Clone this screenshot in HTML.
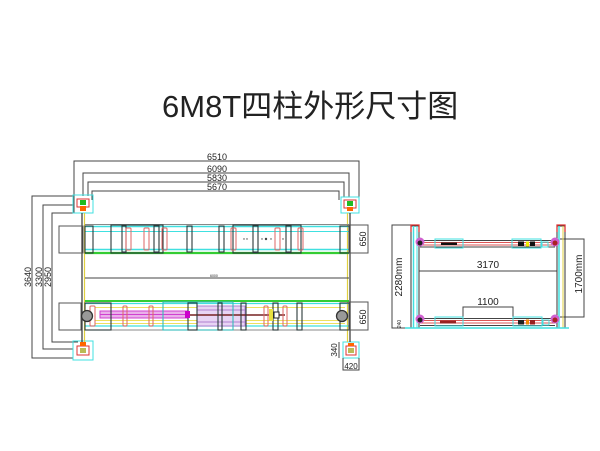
<!DOCTYPE html>
<html><head><meta charset="utf-8"><style>
html,body{margin:0;padding:0;background:#fff;}
svg{display:block;}
text{font-family:"Liberation Sans","Noto Sans CJK SC",sans-serif;fill:#222;}
</style></head><body>
<svg width="600" height="451" viewBox="0 0 600 451" xmlns="http://www.w3.org/2000/svg">
<rect width="600" height="451" fill="#fff"/>
<text x="162" y="117" font-size="31" style="font-family:'Liberation Sans','Noto Sans CJK SC',sans-serif" fill="#111">6M8T四柱外形尺寸图</text>

<!-- top dimension lines -->
<g stroke="#444" stroke-width="1" fill="none">
<polyline points="74,213 74,161 359,161 359,213"/>
<polyline points="83,196 83,173 349,173 349,197"/>
<polyline points="88,196 88,182 344,182 344,197"/>
<polyline points="92,200 92,191 339,191 339,200"/>
<!-- left dims -->
<polyline points="73,196 32,196 32,358 73,358"/>
<polyline points="73,205 43,205 43,349 73,349"/>
<polyline points="78,213 52,213 52,342 78,342"/>
</g>
<g font-size="9">
<text x="207" y="160">6510</text>
<text x="207" y="172">6090</text>
<text x="207" y="181">5830</text>
<text x="207" y="190">5670</text>
<text transform="translate(31,277) rotate(-90)" text-anchor="middle">3640</text>
<text transform="translate(42,277) rotate(-90)" text-anchor="middle">3300</text>
<text transform="translate(51,277) rotate(-90)" text-anchor="middle">2950</text>
</g>

<!-- posts -->
<g>
<rect x="73" y="195" width="20" height="18" fill="none" stroke="#40e0e0"/>
<rect x="77" y="199" width="12" height="8" fill="none" stroke="#d33"/>
<rect x="80" y="200" width="6" height="5" fill="#2b2"/>
<rect x="80" y="206" width="6" height="5" fill="#f60"/>
<rect x="341" y="197" width="18" height="16" fill="none" stroke="#40e0e0"/>
<rect x="344" y="200" width="12" height="8" fill="none" stroke="#d33"/>
<rect x="347" y="201" width="6" height="5" fill="#2b2"/>
<rect x="347" y="207" width="6" height="4" fill="#f60"/>
<rect x="73" y="341" width="20" height="19" fill="none" stroke="#40e0e0"/>
<rect x="77" y="346" width="12" height="9" fill="none" stroke="#d33"/>
<rect x="80" y="342" width="6" height="4" fill="#f60"/>
<rect x="80" y="348" width="6" height="5" fill="#bb5"/>
<rect x="343" y="342" width="16" height="16" fill="none" stroke="#40e0e0"/>
<rect x="346" y="346" width="10" height="9" fill="none" stroke="#d33"/>
<rect x="348" y="343" width="6" height="3" fill="#f60"/>
<rect x="348" y="348" width="6" height="5" fill="#bb5"/>
</g>
<!-- post rails -->
<g stroke-width="1.2">
<line x1="82" y1="213" x2="82" y2="342" stroke="#333"/>
<line x1="84.5" y1="213" x2="84.5" y2="342" stroke="#e0d040"/>
<line x1="350" y1="213" x2="350" y2="342" stroke="#333"/>
<line x1="347.5" y1="213" x2="347.5" y2="342" stroke="#e0d040"/>
</g>

<!-- top runway -->
<g fill="none">
<rect x="59" y="226" width="24" height="27" stroke="#555"/>
<line x1="85" y1="224.5" x2="349" y2="224.5" stroke="#888"/>
<line x1="85" y1="226.5" x2="349" y2="226.5" stroke="#40e0e0" stroke-width="1.5"/>
<line x1="85" y1="231.5" x2="349" y2="231.5" stroke="#40e0e0"/>
<line x1="85" y1="249.5" x2="349" y2="249.5" stroke="#40e0e0" stroke-width="1.5"/>
<line x1="85" y1="253" x2="349" y2="253" stroke="#3c3" stroke-width="2.2"/>
<g stroke="#2a3a3a" stroke-width="1.1">
<rect x="85" y="226" width="8" height="27"/>
<rect x="111" y="225" width="52" height="28"/>
<rect x="122" y="226" width="4" height="26"/>
<rect x="154" y="226" width="5" height="26"/>
<rect x="187" y="226" width="5" height="26"/>
<rect x="219" y="226" width="5" height="26"/>
<rect x="233" y="225" width="68" height="28"/>
<rect x="253" y="226" width="5" height="26"/>
<rect x="286" y="226" width="5" height="26"/>
<rect x="340" y="226" width="9" height="27"/>
</g>
<g stroke="#d66" stroke-width="1">
<rect x="126" y="228" width="5" height="22" rx="1"/>
<rect x="144" y="228" width="5" height="22" rx="1"/>
<rect x="162" y="228" width="5" height="22" rx="1"/>
<rect x="231" y="228" width="5" height="22" rx="1"/>
<rect x="275" y="228" width="5" height="22" rx="1"/>
<rect x="298" y="228" width="5" height="22" rx="1"/>
</g>
<rect x="349" y="225" width="19" height="28" stroke="#555"/>
</g>
<g fill="#444">
<circle cx="244" cy="239" r="0.7"/><circle cx="247" cy="239" r="0.7"/>
<circle cx="262" cy="239" r="0.7"/><circle cx="266" cy="239" r="1.2"/><circle cx="271" cy="239" r="0.7"/>
<circle cx="283" cy="239" r="0.7"/>
</g>
<text transform="translate(366,239) rotate(-90)" text-anchor="middle" font-size="9">650</text>

<!-- middle line -->
<line x1="85" y1="278" x2="349" y2="278" stroke="#444" stroke-width="1"/>
<text x="210" y="277" font-size="3.5">6000</text>

<!-- bottom runway -->
<g fill="none">
<rect x="59" y="303" width="22" height="27" stroke="#555"/>
<line x1="85" y1="301" x2="349" y2="301" stroke="#3c3" stroke-width="2"/>
<line x1="85" y1="303.5" x2="349" y2="303.5" stroke="#40e0e0" stroke-width="1.2"/>
<line x1="95" y1="307.5" x2="345" y2="307.5" stroke="#eee060"/>
<line x1="95" y1="320.5" x2="345" y2="320.5" stroke="#eee060"/>
<line x1="95" y1="323.5" x2="345" y2="323.5" stroke="#eee060"/>
<line x1="85" y1="326" x2="349" y2="326" stroke="#40e0e0" stroke-width="1.2"/>
<line x1="85" y1="330" x2="349" y2="330" stroke="#888"/>
<rect x="197" y="306" width="48" height="20" fill="#e8d4f4" stroke="#b080d0"/>
<line x1="197" y1="310" x2="245" y2="310" stroke="#b080d0"/>
<line x1="197" y1="322" x2="245" y2="322" stroke="#b080d0"/>
<rect x="100" y="311" width="88" height="7" fill="#eab0ea" stroke="#d040d0"/>
<line x1="100" y1="314.5" x2="188" y2="314.5" stroke="#d040d0"/>
<line x1="188" y1="315" x2="285" y2="315" stroke="#722" stroke-width="1.6"/>
<g stroke="#2a3a3a" stroke-width="1.1">
<rect x="85" y="303" width="26" height="27"/>
<rect x="163" y="302" width="70" height="28" stroke="#3bb"/>
<rect x="188" y="303" width="9" height="27"/>
<rect x="218" y="303" width="4" height="27"/>
<rect x="241" y="303" width="5" height="27"/>
<rect x="273" y="303" width="5" height="27"/>
<rect x="297" y="303" width="5" height="27"/>
<rect x="340" y="303" width="9" height="27"/>
</g>
<g stroke="#d66" stroke-width="1">
<rect x="123" y="306" width="4" height="20" rx="1"/>
<rect x="149" y="306" width="4" height="20" rx="1"/>
<rect x="264" y="306" width="4" height="20" rx="1"/>
<rect x="283" y="306" width="4" height="20" rx="1"/>
<rect x="90" y="306" width="5" height="20" rx="1"/>
</g>
<rect x="185" y="311" width="5" height="7" fill="#c0c"/>
<rect x="269" y="309" width="4" height="12" fill="#e8e040"/>
<rect x="274" y="312" width="5" height="6" stroke="#222" fill="#fff"/>
<rect x="349" y="302" width="19" height="28" stroke="#555"/>
<circle cx="87" cy="316" r="5.5" fill="#999" stroke="#333" stroke-width="1.3"/>
<circle cx="342" cy="316" r="5.5" fill="#999" stroke="#333" stroke-width="1.3"/>
</g>
<text transform="translate(366,317) rotate(-90)" text-anchor="middle" font-size="9">650</text>

<!-- bottom right small dims -->
<g stroke="#444" fill="none">
<polyline points="339,342 339,358"/>
<polyline points="343,358 343,370 359,370 359,358"/>
</g>
<text transform="translate(337,350) rotate(-90)" text-anchor="middle" font-size="8">340</text>
<text x="351" y="369" text-anchor="middle" font-size="8">420</text>

<!-- ===== right side view ===== -->
<g fill="none">
<!-- dims -->
<g stroke="#444">
<polyline points="411,225 392,225 392,328 411,328"/>
<polyline points="560,239 584,239 584,317 560,317"/>
<line x1="419" y1="271" x2="557" y2="271"/>
<polyline points="463,318 463,307 513,307 513,318"/>
</g>
<!-- columns -->
<rect x="411" y="226" width="8" height="102" stroke="#333"/>
<line x1="413.5" y1="226" x2="413.5" y2="328" stroke="#40e0e0" stroke-width="1.5"/>
<line x1="417" y1="226" x2="417" y2="328" stroke="#40e0e0"/>
<polyline points="411,232 411,225 419,225 419,232" stroke="#d33" stroke-width="1.3"/>
<rect x="557" y="226" width="8" height="102" stroke="#333"/>
<line x1="559" y1="226" x2="559" y2="328" stroke="#40e0e0" stroke-width="1.5"/>
<line x1="563" y1="226" x2="563" y2="328" stroke="#e0d040"/>
<polyline points="557,232 557,225 565,225 565,232" stroke="#d33" stroke-width="1.3"/>
<line x1="405" y1="328" x2="569" y2="328" stroke="#40e0e0" stroke-width="1.5"/>
<!-- top beam -->
<line x1="420" y1="240.5" x2="555" y2="240.5" stroke="#444"/>
<line x1="420" y1="242.5" x2="555" y2="242.5" stroke="#d55"/>
<line x1="420" y1="245" x2="555" y2="245" stroke="#d55"/>
<line x1="420" y1="247" x2="555" y2="247" stroke="#444"/>
<rect x="435" y="239" width="28" height="9" stroke="#40e0e0"/>
<rect x="512" y="239" width="29" height="9" stroke="#40e0e0"/>
<rect x="542" y="242" width="6" height="5" stroke="#40e0e0"/>
<!-- bottom beam -->
<line x1="420" y1="318.5" x2="555" y2="318.5" stroke="#444"/>
<line x1="420" y1="320.5" x2="555" y2="320.5" stroke="#d55"/>
<line x1="420" y1="323" x2="555" y2="323" stroke="#d55"/>
<line x1="420" y1="325.5" x2="555" y2="325.5" stroke="#444"/>
<rect x="435" y="317" width="28" height="9" stroke="#40e0e0"/>
<rect x="513" y="317" width="29" height="9" stroke="#40e0e0"/>
<rect x="543" y="320" width="6" height="5" stroke="#40e0e0"/>
</g>
<g>
<rect x="441" y="242.5" width="16" height="2.5" fill="#111"/>
<rect x="518" y="241.5" width="6" height="4.5" fill="#111"/>
<rect x="526" y="241.5" width="3" height="5" fill="#ee0"/>
<rect x="530" y="241.5" width="5" height="4.5" fill="#111"/>
<rect x="440" y="320.5" width="16" height="3" fill="#922"/>
<rect x="518" y="320" width="6" height="4.5" fill="#222"/>
<rect x="526" y="319.5" width="3" height="5" fill="#e80"/>
<rect x="530" y="320" width="5" height="4.5" fill="#922"/>
<circle cx="420" cy="242" r="4.5" fill="#d060d0"/><circle cx="420" cy="243" r="2.5" fill="#222"/>
<circle cx="555" cy="242" r="4.5" fill="#d060d0"/><circle cx="555" cy="243" r="2.5" fill="#a22"/>
<circle cx="420" cy="319" r="4.5" fill="#d060d0"/><circle cx="420" cy="320" r="2.5" fill="#222"/>
<circle cx="555" cy="319" r="4.5" fill="#d060d0"/><circle cx="555" cy="320" r="2.5" fill="#a22"/>
</g>
<g font-size="10">
<text x="488" y="268" text-anchor="middle">3170</text>
<text x="488" y="305" text-anchor="middle">1100</text>
<text transform="translate(402,277) rotate(-90)" text-anchor="middle">2280mm</text>
<text transform="translate(582,274) rotate(-90)" text-anchor="middle">1700mm</text>
</g>
<text transform="translate(401,324) rotate(-90)" text-anchor="middle" font-size="5">240</text>
</svg>
</body></html>
